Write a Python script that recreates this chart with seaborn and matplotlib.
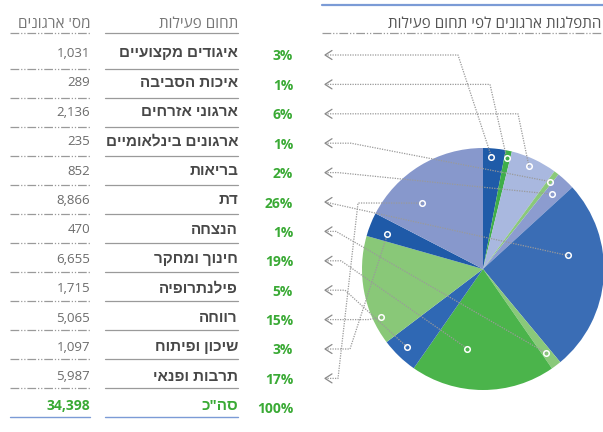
import numpy as np
import matplotlib
matplotlib.use("Agg")
import matplotlib.pyplot as plt
import seaborn as sns

# ========== DATA ==========
categories = ["איגודים מקצועיים", "איכות הסביבה", "ארגוני אזרחים", "ארגונים בינלאומיים",
              "בריאות", "דת", "הנצחה", "חינוך ומחקר", "פילנתרופיה", "רווחה",
              "שיכון ופיתוח", "תרבות ופנאי"]
counts = [1031, 289, 2136, 235, 852, 8866, 470, 6655, 1715, 5065, 1097, 5987]
percents = ["3%", "1%", "6%", "1%", "2%", "26%", "1%", "19%", "5%", "15%", "3%", "17%"]
total_label = "סה\"כ"
total_count = 34398
total_pct = "100%"
title = "התפלגות ארגונים לפי תחום פעילות"
head_count = "מס' ארגונים"
head_cat = "תחום פעילות"

colors = ["#1f5ba8", "#3fae49", "#a9b8df", "#8ac97a", "#8c9ccf", "#3a6db5",
          "#8ac97a", "#4bb44b", "#2f68b4", "#89c878", "#1f5aa8", "#8798cc"]

# ========== LAYOUT (pixels, y from top) ==========
W, H = 603, 432
GREEN = "#3aaa35"
GREY = "#9a9a9a"
BLUE_LINE = "#7b9bd6"
PIE_C = (483, 269)
PIE_R = 121
# where the leader dot sits in each slice: (fraction along slice clockwise, fraction of radius)
dot_pos = [(0.4, 0.93), (0.4, 0.94), (0.46, 0.93), (0.5, 0.91), (0.44, 0.84), (0.36, 0.71),
           (0.55, 0.87), (0.66, 0.67), (0.53, 0.9), (0.22, 0.93), (0.35, 0.84), (0.32, 0.74)]
# bend points of the leader lines (y=0 means "same height as the row")
bends = [[(458, 0)], [(490, 0)], [(518, 0)], [(351, 0)], [(338, 0)], [],
         [(336, 0)], [(341, 0)], [(345, 0)], [(368, 0)], [(350, 0)], [(338, 0), (358, 203)]]


def rtl(s):
    # matplotlib has no bidi support, so show Hebrew in visual order
    return s[::-1]


def Y(y):
    return H - y


sns.set_style("white")
plt.rcParams["font.family"] = ["Open Sans", "Liberation Sans", "DejaVu Sans"]

fig = plt.figure(figsize=(W / 100, H / 100), dpi=100)
ax = fig.add_axes([0, 0, 1, 1])

# ========== PIE ==========
wedges, _ = ax.pie(counts, colors=colors, startangle=90, counterclock=False,
                   center=(PIE_C[0], Y(PIE_C[1])), radius=PIE_R,
                   wedgeprops=dict(linewidth=0))
ax.set_xlim(0, W)
ax.set_ylim(0, H)
ax.set_aspect("auto")
ax.axis("off")

# ========== TABLE ==========
text_y = [53.5 + 29.4 * i for i in range(13)]
line_y = [68.5 + 29.0 * i for i in range(13)]
dash = (0, (7, 1.5, 1, 1.5, 1, 1.5))

ax.text(90, Y(24), rtl(head_count), ha="right", va="center", fontsize=11, color="#777777")
ax.text(238, Y(24), rtl(head_cat), ha="right", va="center", fontsize=11, color="#777777")
ax.plot([10, 90], [Y(33), Y(33)], color=GREY, lw=0.9, ls=dash)
ax.plot([105, 238], [Y(33), Y(33)], color=GREY, lw=0.9)

for i, (cat, n, p) in enumerate(zip(categories, counts, percents)):
    ty = Y(text_y[i])
    ax.text(90, ty, f"{n:,}", ha="right", va="center", fontsize=9.5, color="#6b6b6b")
    ax.text(238, ty, rtl(cat), ha="right", va="center", fontsize=11,
            fontweight="bold", color="#484848")
    ax.text(293, ty - 3, p, ha="right", va="center", fontsize=10,
            fontweight="bold", color=GREEN)
    ax.plot([10, 90], [Y(line_y[i]), Y(line_y[i])], color=GREY, lw=0.9, ls=dash)
    ax.plot([105, 238], [Y(line_y[i]), Y(line_y[i])], color=GREY, lw=0.9)

ty = Y(text_y[12])
ax.text(90, ty, f"{total_count:,}", ha="right", va="center", fontsize=10,
        fontweight="bold", color=GREEN)
ax.text(238, ty, rtl(total_label), ha="right", va="center", fontsize=11,
        fontweight="bold", color=GREEN)
ax.text(293, ty - 3, total_pct, ha="right", va="center", fontsize=10,
        fontweight="bold", color=GREEN)
ax.plot([10, 90], [Y(line_y[12]), Y(line_y[12])], color=BLUE_LINE, lw=1)
ax.plot([105, 238], [Y(line_y[12]), Y(line_y[12])], color=BLUE_LINE, lw=1)

# ========== TITLE ==========
ax.plot([322, W], [Y(5), Y(5)], color=BLUE_LINE, lw=1.6)
ax.text(601, Y(24), rtl(title), ha="right", va="center", fontsize=11, color="#555555")
ax.plot([322, W], [Y(33), Y(33)], color=GREY, lw=0.9, ls=dash)

# ========== LEADERS ==========
for i, w in enumerate(wedges):
    frac, rr = dot_pos[i]
    ang = np.deg2rad(w.theta2 - frac * (w.theta2 - w.theta1))
    dx = PIE_C[0] + rr * PIE_R * np.cos(ang)
    dy = Y(PIE_C[1]) + rr * PIE_R * np.sin(ang)
    ay = text_y[i] + 1.5
    xs = [325]
    ys = [Y(ay)]
    for bx, by in bends[i]:
        xs.append(bx)
        ys.append(Y(by if by else ay))
    xs.append(dx)
    ys.append(dy)
    ax.plot(xs, ys, color=GREY, lw=0.9, ls=(0, (1, 1)))
    ax.plot([332, 325, 332], [Y(ay) + 4.5, Y(ay), Y(ay) - 4.5], color="#8a8a8a", lw=0.9)
    ax.plot(dx, dy, "o", ms=4, mfc="none", mec="white", mew=1.1)

plt.savefig("out.png", dpi=100)
